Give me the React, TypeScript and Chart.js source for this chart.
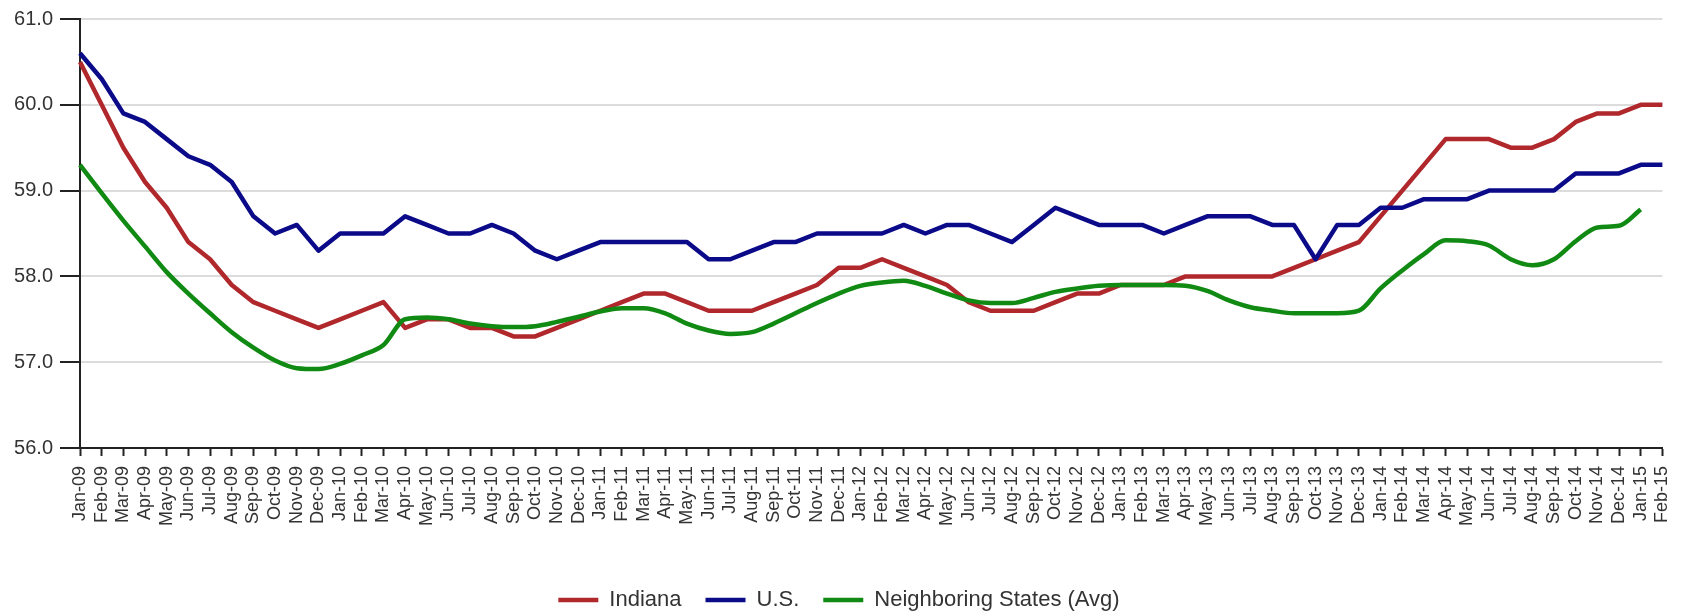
import React, { useEffect, useRef } from "react";
import { Chart, registerables } from "chart.js";

Chart.register(...registerables);

const months: string[] = [
  "Jan-09","Feb-09","Mar-09","Apr-09","May-09","Jun-09","Jul-09","Aug-09","Sep-09","Oct-09","Nov-09","Dec-09",
  "Jan-10","Feb-10","Mar-10","Apr-10","May-10","Jun-10","Jul-10","Aug-10","Sep-10","Oct-10","Nov-10","Dec-10",
  "Jan-11","Feb-11","Mar-11","Apr-11","May-11","Jun-11","Jul-11","Aug-11","Sep-11","Oct-11","Nov-11","Dec-11",
  "Jan-12","Feb-12","Mar-12","Apr-12","May-12","Jun-12","Jul-12","Aug-12","Sep-12","Oct-12","Nov-12","Dec-12",
  "Jan-13","Feb-13","Mar-13","Apr-13","May-13","Jun-13","Jul-13","Aug-13","Sep-13","Oct-13","Nov-13","Dec-13",
  "Jan-14","Feb-14","Mar-14","Apr-14","May-14","Jun-14","Jul-14","Aug-14","Sep-14","Oct-14","Nov-14","Dec-14",
  "Jan-15","Feb-15",
];

const indiana: number[] = [
  60.5, 60.0, 59.5, 59.1, 58.8, 58.4, 58.2, 57.9, 57.7, 57.6, 57.5, 57.4,
  57.5, 57.6, 57.7, 57.4, 57.5, 57.5, 57.4, 57.4, 57.3, 57.3, 57.4, 57.5,
  57.6, 57.7, 57.8, 57.8, 57.7, 57.6, 57.6, 57.6, 57.7, 57.8, 57.9, 58.1,
  58.1, 58.2, 58.1, 58.0, 57.9, 57.7, 57.6, 57.6, 57.6, 57.7, 57.8, 57.8,
  57.9, 57.9, 57.9, 58.0, 58.0, 58.0, 58.0, 58.0, 58.1, 58.2, 58.3, 58.4,
  58.7, 59.0, 59.3, 59.6, 59.6, 59.6, 59.5, 59.5, 59.6, 59.8, 59.9, 59.9,
  60.0, 60.0,
];

const us: number[] = [
  60.6, 60.3, 59.9, 59.8, 59.6, 59.4, 59.3, 59.1, 58.7, 58.5, 58.6, 58.3,
  58.5, 58.5, 58.5, 58.7, 58.6, 58.5, 58.5, 58.6, 58.5, 58.3, 58.2, 58.3,
  58.4, 58.4, 58.4, 58.4, 58.4, 58.2, 58.2, 58.3, 58.4, 58.4, 58.5, 58.5,
  58.5, 58.5, 58.6, 58.5, 58.6, 58.6, 58.5, 58.4, 58.6, 58.8, 58.7, 58.6,
  58.6, 58.6, 58.5, 58.6, 58.7, 58.7, 58.7, 58.6, 58.6, 58.2, 58.6, 58.6,
  58.8, 58.8, 58.9, 58.9, 58.9, 59.0, 59.0, 59.0, 59.0, 59.2, 59.2, 59.2,
  59.3, 59.3,
];

const neighboring: (number | null)[] = [
  59.3, 58.97, 58.65, 58.35, 58.05, 57.8, 57.57, 57.35, 57.17, 57.02, 56.93, 56.92,
  56.98, 57.08, 57.2, 57.5, 57.52, 57.5, 57.45, 57.42, 57.41, 57.42, 57.47, 57.53,
  57.59, 57.63, 57.63, 57.57, 57.45, 57.37, 57.33, 57.35, 57.45, 57.57, 57.69, 57.8,
  57.89, 57.93, 57.95, 57.89, 57.8, 57.72, 57.69, 57.69, 57.75, 57.82, 57.86, 57.89,
  57.9, 57.9, 57.9, 57.89, 57.83, 57.72, 57.64, 57.6, 57.57, 57.57, 57.57, 57.6,
  57.86, 58.07, 58.26, 58.42, 58.41, 58.36, 58.2, 58.13, 58.2, 58.41, 58.57, 58.59,
  58.78, null,
];

const seriesNames = ["Indiana", "U.S.", "Neighboring States (Avg)"];
const seriesColors = ["#b0282c", "#0b0b8a", "#108a12"];

export default function App() {
  const ref = useRef<HTMLCanvasElement | null>(null);

  useEffect(() => {
    if (!ref.current) return;
    Chart.defaults.font.family = "'Liberation Sans', Arial, sans-serif";
    const chart = new Chart(ref.current, {
      type: "line",
      data: {
        labels: months,
        datasets: [
          {
            label: seriesNames[0],
            data: indiana,
            borderColor: seriesColors[0],
            backgroundColor: seriesColors[0],
            borderWidth: 4.5,
            pointRadius: 0,
            borderJoinStyle: "round",
            order: 2,
          },
          {
            label: seriesNames[1],
            data: us,
            borderColor: seriesColors[1],
            backgroundColor: seriesColors[1],
            borderWidth: 4.5,
            pointRadius: 0,
            borderJoinStyle: "round",
            order: 1,
          },
          {
            label: seriesNames[2],
            data: neighboring,
            borderColor: seriesColors[2],
            backgroundColor: seriesColors[2],
            borderWidth: 4.5,
            pointRadius: 0,
            borderJoinStyle: "round",
            cubicInterpolationMode: "monotone",
            order: 0,
          },
        ],
      },
      options: {
        animation: false,
        responsive: false,
        devicePixelRatio: 1,
        layout: { padding: { top: 18, right: 16, bottom: 4, left: 0 } },
        plugins: {
          tooltip: { enabled: false },
          legend: {
            position: "bottom",
            labels: {
              usePointStyle: true,
              pointStyle: "line",
              pointStyleWidth: 40,
              padding: 24,
              color: "#333",
              font: { size: 22 },
              sort: (a: any, b: any) => a.datasetIndex - b.datasetIndex,
            },
          },
        },
        scales: {
          x: {
            offset: false,
            grid: {
              drawOnChartArea: false,
              drawTicks: true,
              tickLength: 8,
              tickColor: "#222",
              tickWidth: 2,
            },
            border: { color: "#222", width: 2 },
            ticks: {
              autoSkip: false,
              maxRotation: 90,
              minRotation: 90,
              padding: 10,
              color: "#333",
              font: { size: 18 },
            },
            afterFit: (scale: any) => {
              scale.height = 117;
            },
          },
          y: {
            min: 56,
            max: 61,
            grid: {
              color: "#dcdcdc",
              lineWidth: 2,
              tickLength: 20,
              tickColor: "#222",
              tickWidth: 2,
            },
            border: { color: "#222", width: 2 },
            ticks: {
              stepSize: 1,
              padding: 7,
              color: "#333",
              font: { size: 20 },
              callback: (v: any) => Number(v).toFixed(1),
            },
            afterFit: (scale: any) => {
              scale.width = 80;
            },
          },
        },
      },
    });
    return () => chart.destroy();
  }, []);

  return (
    <div
      style={{
        position: "absolute",
        left: 0,
        top: 0,
        width: 1694,
        height: 611,
        overflow: "hidden",
        background: "#fff",
      }}
    >
      <canvas ref={ref} width={1694} height={625} style={{ display: "block" }} />
    </div>
  );
}
